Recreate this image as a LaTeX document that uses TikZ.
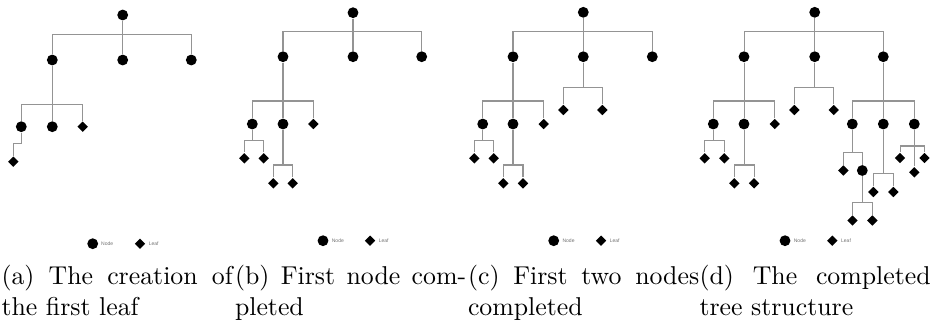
\documentclass[tikz,border=0pt]{standalone}
\usepackage{fontspec}
\newfontfamily\legendfont{Liberation Sans}
\usetikzlibrary{shapes.geometric}

\tikzset{
  inode/.style={circle, fill=black, draw=none, inner sep=0pt, minimum size=4.2pt},
  leaf/.style={diamond, fill=black, draw=none, inner sep=0pt, minimum width=4.2pt, minimum height=4.2pt},
  conn/.style={draw=black!42, line width=0.4pt},
  legtext/.style={anchor=west, inner sep=0pt, text=black!55, font=\legendfont\fontsize{1.95pt}{2.3pt}\selectfont},
  subcap/.style={anchor=base west, inner sep=0pt, text width=89.6pt, align=justify, font=\fontsize{10pt}{12pt}\selectfont},
}

\begin{document}
\begin{tikzpicture}[x=0.3876pt, y=-0.3876pt]
\useasboundingbox (0,0) rectangle (933,323);

% ---------------- (a) the first leaf ----------------
\node[inode] (aR) at (122.7,15) {};
\node[inode] (a1) at (52.3,60) {};
\node[inode] (a2) at (122.7,60) {};
\node[inode] (a3) at (191.3,60) {};
\node[inode] (a11) at (21.3,126.7) {};
\node[inode] (a12) at (52.3,126.7) {};
\node[leaf]  (a13) at (82.7,126.7) {};
\node[leaf]  (a111) at (13.3,161.7) {};
\coordinate (aR-bar) at (122.7,34.3);
\coordinate (a1-bar) at (52.3,104.3);
\coordinate (a11-bar) at (21.3,143.3);
\foreach \c in {a1,a2,a3} \draw[conn] (aR) -- (aR-bar) -| (\c);
\foreach \c in {a11,a12,a13} \draw[conn] (a1) -- (a1-bar) -| (\c);
\draw[conn] (a11) -- (a11-bar) -| (a111);

\node[inode] (aLn) at (92.7,243.7) {};
\node[legtext] (aLnT) at (100.7,243.7) {Node};
\node[leaf]  (aLl) at (140,243.7) {};
\node[legtext] (aLlT) at (148.3,243.7) {Leaf};

% ---------------- (b) first node completed ----------------
\node[inode] (bR) at (353,12.7) {};
\node[inode] (b1) at (283,56.7) {};
\node[inode] (b2) at (353,56.7) {};
\node[inode] (b3) at (421.7,56.7) {};
\node[inode] (b11) at (252.3,124) {};
\node[inode] (b12) at (283,124) {};
\node[leaf]  (b13) at (313.3,124) {};
\node[leaf]  (b111) at (244.3,158.3) {};
\node[leaf]  (b112) at (263.7,158.3) {};
\node[leaf]  (b121) at (273.3,183.3) {};
\node[leaf]  (b122) at (292.7,183.3) {};
\coordinate (bR-bar) at (353,31.7);
\coordinate (b1-bar) at (283,101);
\coordinate (b11-bar) at (252.3,140.3);
\coordinate (b12-bar) at (283,165);
\foreach \c in {b1,b2,b3} \draw[conn] (bR) -- (bR-bar) -| (\c);
\foreach \c in {b11,b12,b13} \draw[conn] (b1) -- (b1-bar) -| (\c);
\foreach \c in {b111,b112} \draw[conn] (b11) -- (b11-bar) -| (\c);
\foreach \c in {b121,b122} \draw[conn] (b12) -- (b12-bar) -| (\c);

\node[inode] (bLn) at (323,240.7) {};
\node[legtext] (bLnT) at (331.3,240.7) {Node};
\node[leaf]  (bLl) at (370,240.7) {};
\node[legtext] (bLlT) at (378.3,240.7) {Leaf};

% ---------------- (c) first two nodes completed ----------------
\node[inode] (cR) at (583.3,12.3) {};
\node[inode] (c1) at (513,56.7) {};
\node[inode] (c2) at (583.3,56.7) {};
\node[inode] (c3) at (652.3,56.7) {};
\node[leaf]  (c21) at (563.3,110) {};
\node[leaf]  (c22) at (602.3,110) {};
\node[inode] (c11) at (482.7,124) {};
\node[inode] (c12) at (513,124) {};
\node[leaf]  (c13) at (543.7,124) {};
\node[leaf]  (c111) at (474.3,158.3) {};
\node[leaf]  (c112) at (493.7,158.3) {};
\node[leaf]  (c121) at (503.3,183.3) {};
\node[leaf]  (c122) at (523,183.3) {};
\coordinate (cR-bar) at (583.3,31.7);
\coordinate (c2-bar) at (583.3,87.7);
\coordinate (c1-bar) at (513,101);
\coordinate (c11-bar) at (482.7,140.3);
\coordinate (c12-bar) at (513,165);
\foreach \c in {c1,c2,c3} \draw[conn] (cR) -- (cR-bar) -| (\c);
\foreach \c in {c21,c22} \draw[conn] (c2) -- (c2-bar) -| (\c);
\foreach \c in {c11,c12,c13} \draw[conn] (c1) -- (c1-bar) -| (\c);
\foreach \c in {c111,c112} \draw[conn] (c11) -- (c11-bar) -| (\c);
\foreach \c in {c121,c122} \draw[conn] (c12) -- (c12-bar) -| (\c);

\node[inode] (cLn) at (553.7,240.7) {};
\node[legtext] (cLnT) at (562,240.7) {Node};
\node[leaf]  (cLl) at (601,240.7) {};
\node[legtext] (cLlT) at (609.3,240.7) {Leaf};

% ---------------- (d) completed tree ----------------
\node[inode] (dR) at (814.7,12.3) {};
\node[inode] (d1) at (744,56.7) {};
\node[inode] (d2) at (814.7,56.7) {};
\node[inode] (d3) at (883.3,56.7) {};
\node[leaf]  (d21) at (794.3,110) {};
\node[leaf]  (d22) at (833.7,110) {};
\node[inode] (d11) at (713.3,124) {};
\node[inode] (d12) at (744,124) {};
\node[leaf]  (d13) at (774.7,124) {};
\node[leaf]  (d111) at (704.7,158.3) {};
\node[leaf]  (d112) at (724.3,158.3) {};
\node[leaf]  (d121) at (734.3,183.3) {};
\node[leaf]  (d122) at (754,183.3) {};
\node[inode] (d31) at (852.3,124) {};
\node[inode] (d32) at (883.3,124) {};
\node[inode] (d33) at (914.3,124) {};
\node[leaf]  (d311) at (843.3,170.5) {};
\node[inode] (d312) at (862.3,170.5) {};
\node[leaf]  (d3121) at (852.5,220.5) {};
\node[leaf]  (d3122) at (872.3,220.5) {};
\node[leaf]  (d321) at (873.3,192) {};
\node[leaf]  (d322) at (893.3,192) {};
\node[leaf]  (d331) at (900,158) {};
\node[leaf]  (d332) at (914.3,172.3) {};
\node[leaf]  (d333) at (924.5,158) {};
\coordinate (dR-bar) at (814.7,31.7);
\coordinate (d2-bar) at (814.7,87.7);
\coordinate (d1-bar) at (744,101);
\coordinate (d11-bar) at (713.3,140.3);
\coordinate (d12-bar) at (744,165);
\coordinate (d3-bar) at (883.3,101);
\coordinate (d31-bar) at (852.3,152.5);
\coordinate (d312-bar) at (862.3,202.7);
\coordinate (d32-bar) at (883.3,173.5);
\coordinate (d33-bar) at (914.3,146);
\foreach \c in {d1,d2,d3} \draw[conn] (dR) -- (dR-bar) -| (\c);
\foreach \c in {d21,d22} \draw[conn] (d2) -- (d2-bar) -| (\c);
\foreach \c in {d11,d12,d13} \draw[conn] (d1) -- (d1-bar) -| (\c);
\foreach \c in {d111,d112} \draw[conn] (d11) -- (d11-bar) -| (\c);
\foreach \c in {d121,d122} \draw[conn] (d12) -- (d12-bar) -| (\c);
\foreach \c in {d31,d32,d33} \draw[conn] (d3) -- (d3-bar) -| (\c);
\foreach \c in {d311,d312} \draw[conn] (d31) -- (d31-bar) -| (\c);
\foreach \c in {d3121,d3122} \draw[conn] (d312) -- (d312-bar) -| (\c);
\foreach \c in {d321,d322} \draw[conn] (d32) -- (d32-bar) -| (\c);
\foreach \c in {d331,d332,d333} \draw[conn] (d33) -- (d33-bar) -| (\c);

\node[inode] (dLn) at (785,240.7) {};
\node[legtext] (dLnT) at (793.3,240.7) {Node};
\node[leaf]  (dLl) at (832.3,240.7) {};
\node[legtext] (dLlT) at (840.6,240.7) {Leaf};

% ---------------- sub-captions ----------------
\node[subcap] (capA) at (1,284.5) {(a) The creation of\linebreak the first leaf};
\node[subcap] (capB) at (234.5,284.5) {(b) First node com-\linebreak pleted};
\node[subcap] (capC) at (467.5,284.5) {(c) First two nodes\linebreak completed};
\node[subcap] (capD) at (699,284.5) {(d) The completed\linebreak tree structure};

\end{tikzpicture}
\end{document}
